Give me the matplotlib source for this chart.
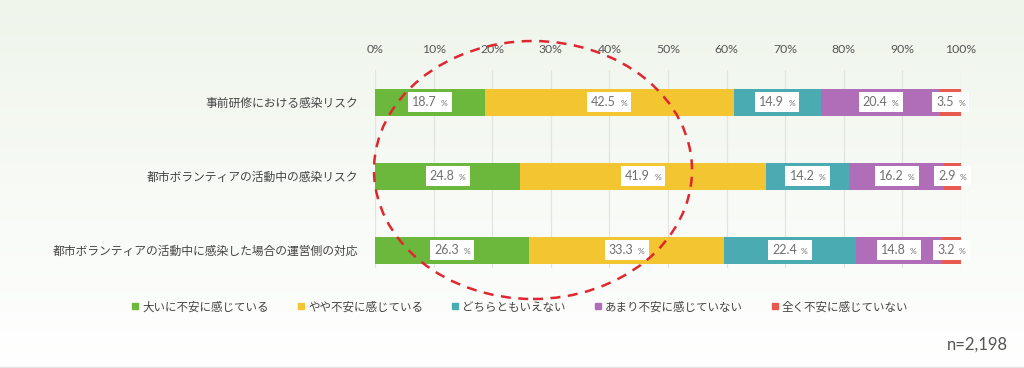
import numpy as np
import matplotlib
matplotlib.use("Agg")
import matplotlib.pyplot as plt
from matplotlib.patches import Ellipse
from matplotlib.lines import Line2D
from matplotlib.offsetbox import TextArea, HPacker, AnnotationBbox

plt.rcParams['font.family'] = ['Noto Sans CJK JP', 'DejaVu Sans']

categories = ["事前研修における感染リスク",
              "都市ボランティアの活動中の感染リスク",
              "都市ボランティアの活動中に感染した場合の運営側の対応"]
series_names = ["大いに不安に感じている", "やや不安に感じている", "どちらともいえない",
                "あまり不安に感じていない", "全く不安に感じていない"]
values = {
    "大いに不安に感じている": [18.7, 24.8, 26.3],
    "やや不安に感じている": [42.5, 41.9, 33.3],
    "どちらともいえない": [14.9, 14.2, 22.4],
    "あまり不安に感じていない": [20.4, 16.2, 14.8],
    "全く不安に感じていない": [3.5, 2.9, 3.2],
}
colors = ["#6cb83c", "#f2c531", "#4aabb3", "#b06eb9", "#e85a50"]
tick_values = list(range(0, 101, 10))
tick_labels = [f"{t}%" for t in tick_values]
n_text = "n=2,198"

fig = plt.figure(figsize=(10.24, 3.68), dpi=100)

# background gradient
bg = fig.add_axes([0, 0, 1, 1], zorder=-10)
grad = np.linspace(0, 1, 256)[:, None]
top = np.array([0.937, 0.961, 0.922])
bot = np.array([1.0, 1.0, 1.0])
img = top[None, None, :] * (1 - grad[:, :, None]) + bot[None, None, :] * grad[:, :, None]
bg.imshow(img, aspect='auto', extent=[0, 1, 0, 1])
bg.set_axis_off()
bg.axhline(0.003, color="#e4e4e4", lw=1)

ax = fig.add_axes([375/1024, 1-268/368, 586/1024, (268-70)/368])
ax.set_facecolor("none")
y = np.arange(len(categories))
h = 27/74
left = np.zeros(len(categories))
for name, c in zip(series_names, colors):
    v = np.array(values[name])
    ax.barh(y, v, left=left, height=h, color=c, zorder=2, label=name)
    for yi, (l, w) in enumerate(zip(left, v)):
        num = TextArea(f"{w:.1f}", textprops=dict(size=9, color="#707070", family="Lato"))
        pct = TextArea("%", textprops=dict(size=6, color="#707070", family="Lato"))
        pack = HPacker(children=[num, pct], align="baseline", pad=0, sep=3)
        ab = AnnotationBbox(pack, (l + w/2, yi), xycoords='data', frameon=True,
                            pad=0.3, box_alignment=(0.5, 0.5), zorder=3,
                            bboxprops=dict(facecolor="white", edgecolor="none"))
        ax.add_artist(ab)
    left = left + v

ax.set_xlim(0, 100)
ax.set_ylim(2 + 18/74, -32/74)
ax.set_xticks(tick_values)
ax.set_xticklabels(tick_labels, family="Lato", color="#555555", fontsize=8.8)
ax.xaxis.tick_top()
ax.tick_params(axis='x', length=0, pad=11)
ax.set_yticks(y)
ax.set_yticklabels(categories, fontsize=8.5, color="#444444")
ax.tick_params(axis='y', length=0, pad=12)
ax.grid(axis='x', color="#e2e5de", lw=0.9, zorder=0)
for s in ax.spines.values():
    s.set_visible(False)

handles = [Line2D([], [], marker='s', linestyle='none', markersize=5, color=c) for c in colors]
fig.legend(handles, series_names, loc='center', bbox_to_anchor=(0.508, 1-307/368), ncol=5,
           frameon=False, fontsize=8.3, handlelength=0.6, handletextpad=0.3,
           columnspacing=2.5, labelcolor="#444444")

fig.text(1008/1024, 1-345/368, n_text, ha='right', va='center', fontsize=12,
         color="#555555", family="Lato")

ell = Ellipse((533/1024, 1-170/368), 318/1024, 258/368, transform=fig.transFigure,
              fill=False, edgecolor="#e0262f", lw=1.8, linestyle=(0, (4, 3)), zorder=5)
fig.patches.append(ell)

fig.savefig("out.png", dpi=100)
